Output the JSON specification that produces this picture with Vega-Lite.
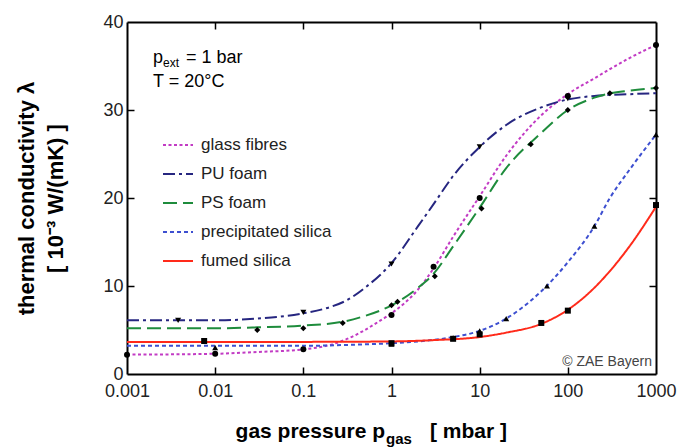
{
  "$schema": "https://vega.github.io/schema/vega-lite/v6.json",
  "width": 529,
  "height": 352,
  "autosize": "none",
  "padding": {"left": 127, "top": 22, "right": 38, "bottom": 74},
  "background": "white",
  "config": {
    "font": "Liberation Sans",
    "view": {"stroke": null},
    "axis": {
      "grid": false,
      "domainColor": "black",
      "domainWidth": 2,
      "tickColor": "black",
      "tickWidth": 1.5,
      "tickSize": 7,
      "labelFont": "Liberation Sans",
      "labelFontSize": 18,
      "labelColor": "#222",
      "titleFont": "Liberation Sans",
      "titleFontSize": 22,
      "titleFontWeight": "bold",
      "titleColor": "black"
    },
    "legend": {
      "labelFont": "Liberation Sans",
      "labelFontSize": 17,
      "labelColor": "#222"
    }
  },
  "datasets": {
    "curves": [
      {"s": "glass fibres", "p": 0.001, "k": 2.2},
      {"s": "glass fibres", "p": 0.01, "k": 2.3},
      {"s": "glass fibres", "p": 0.03, "k": 2.5},
      {"s": "glass fibres", "p": 0.1, "k": 2.8},
      {"s": "glass fibres", "p": 0.2, "k": 3.3},
      {"s": "glass fibres", "p": 0.3, "k": 3.9},
      {"s": "glass fibres", "p": 0.5, "k": 5.0},
      {"s": "glass fibres", "p": 0.7, "k": 5.9},
      {"s": "glass fibres", "p": 1, "k": 6.9},
      {"s": "glass fibres", "p": 2, "k": 9.6},
      {"s": "glass fibres", "p": 3, "k": 12.0},
      {"s": "glass fibres", "p": 5, "k": 15.6},
      {"s": "glass fibres", "p": 10, "k": 20.2},
      {"s": "glass fibres", "p": 20, "k": 24.8},
      {"s": "glass fibres", "p": 50, "k": 29.4},
      {"s": "glass fibres", "p": 100, "k": 31.8},
      {"s": "glass fibres", "p": 200, "k": 33.6},
      {"s": "glass fibres", "p": 500, "k": 35.9},
      {"s": "glass fibres", "p": 1000, "k": 37.4},
      {"s": "PU foam", "p": 0.001, "k": 6.1},
      {"s": "PU foam", "p": 0.01, "k": 6.1},
      {"s": "PU foam", "p": 0.03, "k": 6.3},
      {"s": "PU foam", "p": 0.1, "k": 6.9},
      {"s": "PU foam", "p": 0.2, "k": 7.6},
      {"s": "PU foam", "p": 0.3, "k": 8.3},
      {"s": "PU foam", "p": 0.5, "k": 9.8},
      {"s": "PU foam", "p": 1, "k": 12.6},
      {"s": "PU foam", "p": 2, "k": 16.8},
      {"s": "PU foam", "p": 3, "k": 19.3},
      {"s": "PU foam", "p": 5, "k": 22.5},
      {"s": "PU foam", "p": 10, "k": 25.8},
      {"s": "PU foam", "p": 20, "k": 28.3},
      {"s": "PU foam", "p": 50, "k": 30.3},
      {"s": "PU foam", "p": 100, "k": 31.2},
      {"s": "PU foam", "p": 200, "k": 31.6},
      {"s": "PU foam", "p": 500, "k": 31.8},
      {"s": "PU foam", "p": 1000, "k": 31.9},
      {"s": "PS foam", "p": 0.001, "k": 5.2},
      {"s": "PS foam", "p": 0.01, "k": 5.2},
      {"s": "PS foam", "p": 0.03, "k": 5.3},
      {"s": "PS foam", "p": 0.1, "k": 5.5},
      {"s": "PS foam", "p": 0.3, "k": 6.0},
      {"s": "PS foam", "p": 0.5, "k": 6.6},
      {"s": "PS foam", "p": 1, "k": 7.8},
      {"s": "PS foam", "p": 2, "k": 9.8},
      {"s": "PS foam", "p": 3, "k": 11.4},
      {"s": "PS foam", "p": 5, "k": 14.5},
      {"s": "PS foam", "p": 10, "k": 18.9},
      {"s": "PS foam", "p": 20, "k": 23.4},
      {"s": "PS foam", "p": 50, "k": 27.4},
      {"s": "PS foam", "p": 100, "k": 30.0},
      {"s": "PS foam", "p": 200, "k": 31.4},
      {"s": "PS foam", "p": 300, "k": 31.9},
      {"s": "PS foam", "p": 500, "k": 32.2},
      {"s": "PS foam", "p": 1000, "k": 32.5},
      {"s": "precipitated silica", "p": 0.001, "k": 3.2},
      {"s": "precipitated silica", "p": 0.01, "k": 3.2},
      {"s": "precipitated silica", "p": 0.1, "k": 3.2},
      {"s": "precipitated silica", "p": 0.3, "k": 3.3},
      {"s": "precipitated silica", "p": 1, "k": 3.5},
      {"s": "precipitated silica", "p": 2, "k": 3.7},
      {"s": "precipitated silica", "p": 5, "k": 4.2},
      {"s": "precipitated silica", "p": 10, "k": 4.9},
      {"s": "precipitated silica", "p": 20, "k": 6.3},
      {"s": "precipitated silica", "p": 30, "k": 7.5},
      {"s": "precipitated silica", "p": 50, "k": 9.4},
      {"s": "precipitated silica", "p": 100, "k": 12.7},
      {"s": "precipitated silica", "p": 200, "k": 16.8},
      {"s": "precipitated silica", "p": 300, "k": 20.0},
      {"s": "precipitated silica", "p": 500, "k": 23.2},
      {"s": "precipitated silica", "p": 1000, "k": 27.2},
      {"s": "fumed silica", "p": 0.001, "k": 3.65},
      {"s": "fumed silica", "p": 0.1, "k": 3.65},
      {"s": "fumed silica", "p": 1, "k": 3.7},
      {"s": "fumed silica", "p": 3, "k": 3.85},
      {"s": "fumed silica", "p": 10, "k": 4.2},
      {"s": "fumed silica", "p": 20, "k": 4.7},
      {"s": "fumed silica", "p": 50, "k": 5.7},
      {"s": "fumed silica", "p": 100, "k": 7.3},
      {"s": "fumed silica", "p": 200, "k": 9.8},
      {"s": "fumed silica", "p": 300, "k": 11.7},
      {"s": "fumed silica", "p": 500, "k": 14.5},
      {"s": "fumed silica", "p": 1000, "k": 19.0}
    ],
    "markers": [
      {"m": "gf", "p": 0.001, "k": 2.2},
      {"m": "gf", "p": 0.01, "k": 2.3},
      {"m": "gf", "p": 0.1, "k": 2.8},
      {"m": "gf", "p": 1, "k": 6.7},
      {"m": "gf", "p": 3, "k": 12.2},
      {"m": "gf", "p": 10, "k": 20.0},
      {"m": "gf", "p": 100, "k": 31.6},
      {"m": "gf", "p": 1000, "k": 37.4},
      {"m": "pu", "p": 0.0038, "k": 6.1},
      {"m": "pu", "p": 0.1, "k": 7.0},
      {"m": "pu", "p": 1, "k": 12.5},
      {"m": "pu", "p": 10, "k": 25.8},
      {"m": "pu", "p": 100, "k": 31.3},
      {"m": "ps", "p": 0.03, "k": 5.0},
      {"m": "ps", "p": 0.1, "k": 5.2},
      {"m": "ps", "p": 0.28, "k": 5.8},
      {"m": "ps", "p": 1, "k": 7.8},
      {"m": "ps", "p": 1.17, "k": 8.2},
      {"m": "ps", "p": 3.1, "k": 11.1},
      {"m": "ps", "p": 10.5, "k": 18.8},
      {"m": "ps", "p": 38, "k": 26.1},
      {"m": "ps", "p": 100, "k": 30.0},
      {"m": "ps", "p": 300, "k": 31.9},
      {"m": "ps", "p": 1000, "k": 32.5},
      {"m": "pr", "p": 0.01, "k": 3.0},
      {"m": "pr", "p": 1, "k": 3.4},
      {"m": "pr", "p": 5, "k": 4.1},
      {"m": "pr", "p": 10, "k": 4.9},
      {"m": "pr", "p": 20, "k": 6.3},
      {"m": "pr", "p": 58, "k": 10.0},
      {"m": "pr", "p": 200, "k": 16.8},
      {"m": "pr", "p": 1000, "k": 27.2},
      {"m": "fu", "p": 0.0075, "k": 3.75},
      {"m": "fu", "p": 1, "k": 3.5},
      {"m": "fu", "p": 5, "k": 4.0},
      {"m": "fu", "p": 10, "k": 4.5},
      {"m": "fu", "p": 50, "k": 5.8},
      {"m": "fu", "p": 100, "k": 7.2},
      {"m": "fu", "p": 1000, "k": 19.2}
    ]
  },
  "layer": [
    {
      "data": {"name": "curves"},
      "mark": {"type": "line", "strokeWidth": 2, "interpolate": "monotone"},
      "encoding": {
        "x": {"field": "p", "type": "quantitative", "scale": {"type": "log", "domain": [0.001, 1000]},
          "axis": {"orient": "bottom", "values": [0.001, 0.01, 0.1, 1, 10, 100, 1000], "format": "~g", "ticks": false, "labelFlush": false, "labelOverlap": false, "labelPadding": 8, "title": null}},
        "y": {"field": "k", "type": "quantitative", "scale": {"domain": [0, 40]},
          "axis": {"orient": "left", "values": [0, 10, 20, 30, 40], "ticks": false, "labelPadding": 4, "title": ["thermal conductivity λ", "[ 10⁻³ W/(mK) ]"], "titleLineHeight": 29, "titlePadding": 35}},
        "color": {"field": "s", "type": "nominal",
          "scale": {"domain": ["glass fibres", "PU foam", "PS foam", "precipitated silica", "fumed silica"], "range": ["#c23bc4", "#262680", "#1e8c3c", "#3d4fd0", "#ff2a1a"]},
          "legend": {"title": null, "orient": "none", "legendX": 35, "legendY": 107, "symbolType": "stroke", "symbolSize": 900, "symbolStrokeWidth": 2, "labelOffset": 7, "rowPadding": 5, "padding": 0}},
        "strokeDash": {"field": "s", "type": "nominal",
          "scale": {"domain": ["glass fibres", "PU foam", "PS foam", "precipitated silica", "fumed silica"], "range": [[3, 2.5], [12, 4, 3, 4], [14, 6], [4, 3], [1, 0]]},
          "legend": {"title": null, "orient": "none", "legendX": 35, "legendY": 107, "symbolType": "stroke", "symbolSize": 900, "symbolStrokeWidth": 2, "labelOffset": 7, "rowPadding": 5, "padding": 0}}
      }
    },
    {
      "data": {"name": "markers"},
      "mark": {"type": "point", "filled": true, "color": "black", "size": 36, "opacity": 1},
      "encoding": {
        "x": {"field": "p", "type": "quantitative", "scale": {"type": "log", "domain": [0.001, 1000]}, "axis": null},
        "y": {"field": "k", "type": "quantitative", "scale": {"domain": [0, 40]}, "axis": null},
        "shape": {"field": "m", "type": "nominal",
          "scale": {"domain": ["gf", "pu", "ps", "pr", "fu"], "range": ["circle", "triangle-down", "diamond", "triangle-up", "square"]},
          "legend": null}
      }
    },
    {
      "data": {"name": "markers"},
      "mark": {"type": "point", "opacity": 0},
      "encoding": {
        "x": {"field": "p", "type": "quantitative", "scale": {"type": "log", "domain": [0.001, 1000]},
          "axis": {"orient": "bottom", "offset": -352, "values": [0.01, 0.1, 1, 10, 100], "labels": false, "title": null}},
        "y": {"field": "k", "type": "quantitative", "scale": {"domain": [0, 40]},
          "axis": {"orient": "right", "offset": -529, "values": [10, 20, 30], "labels": false, "domain": false, "title": null}}
      }
    },
    {
      "data": {"name": "markers"},
      "mark": {"type": "point", "opacity": 0},
      "encoding": {
        "x": {"field": "p", "type": "quantitative", "scale": {"type": "log", "domain": [0.001, 1000]},
          "axis": {"orient": "top", "offset": -352, "values": [0.01, 0.1, 1, 10, 100], "labels": false, "domain": false, "title": null}},
        "y": {"field": "k", "type": "quantitative", "scale": {"domain": [0, 40]},
          "axis": {"orient": "left", "offset": -529, "values": [10, 20, 30], "labels": false, "title": null}}
      }
    },
    {
      "data": {"values": [{"t": "p", "p": 0.001972, "k": 35.34}, {"t": "= 1 bar", "p": 0.004668, "k": 35.34}, {"t": "T = 20°C", "p": 0.001972, "k": 32.61}]},
      "mark": {"type": "text", "align": "left", "baseline": "alphabetic", "fontSize": 18, "color": "black"},
      "encoding": {
        "x": {"field": "p", "type": "quantitative", "scale": {"type": "log", "domain": [0.001, 1000]}, "axis": null},
        "y": {"field": "k", "type": "quantitative", "scale": {"domain": [0, 40]}, "axis": null},
        "text": {"field": "t"}
      }
    },
    {
      "data": {"values": [{"t": "ext", "p": 0.00256, "k": 34.89}]},
      "mark": {"type": "text", "align": "left", "baseline": "alphabetic", "fontSize": 12, "color": "black"},
      "encoding": {
        "x": {"field": "p", "type": "quantitative", "scale": {"type": "log", "domain": [0.001, 1000]}, "axis": null},
        "y": {"field": "k", "type": "quantitative", "scale": {"domain": [0, 40]}, "axis": null},
        "text": {"field": "t"}
      }
    },
    {
      "data": {"values": [{"t": "© ZAE Bayern", "p": 899, "k": 0.91}]},
      "mark": {"type": "text", "align": "right", "baseline": "alphabetic", "fontSize": 14, "color": "#444"},
      "encoding": {
        "x": {"field": "p", "type": "quantitative", "scale": {"type": "log", "domain": [0.001, 1000]}, "axis": null},
        "y": {"field": "k", "type": "quantitative", "scale": {"domain": [0, 40]}, "axis": null},
        "text": {"field": "t"}
      }
    },
    {
      "data": {"values": [{"t": "gas pressure p", "p": 0.8435, "k": -7.3}]},
      "mark": {"type": "text", "align": "right", "baseline": "alphabetic", "fontSize": 21, "fontWeight": "bold", "color": "black"},
      "encoding": {
        "x": {"field": "p", "type": "quantitative", "scale": {"type": "log", "domain": [0.001, 1000]}, "axis": null},
        "y": {"field": "k", "type": "quantitative", "scale": {"domain": [0, 40]}, "axis": null},
        "text": {"field": "t"}
      }
    },
    {
      "data": {"values": [{"t": "[ mbar ]", "p": 2.733, "k": -7.3}]},
      "mark": {"type": "text", "align": "left", "baseline": "alphabetic", "fontSize": 21, "fontWeight": "bold", "color": "black"},
      "encoding": {
        "x": {"field": "p", "type": "quantitative", "scale": {"type": "log", "domain": [0.001, 1000]}, "axis": null},
        "y": {"field": "k", "type": "quantitative", "scale": {"domain": [0, 40]}, "axis": null},
        "text": {"field": "t"}
      }
    },
    {
      "data": {"values": [{"t": "gas", "p": 0.866, "k": -7.9}]},
      "mark": {"type": "text", "align": "left", "baseline": "alphabetic", "fontSize": 15, "fontWeight": "bold", "color": "black"},
      "encoding": {
        "x": {"field": "p", "type": "quantitative", "scale": {"type": "log", "domain": [0.001, 1000]}, "axis": null},
        "y": {"field": "k", "type": "quantitative", "scale": {"domain": [0, 40]}, "axis": null},
        "text": {"field": "t"}
      }
    }
  ],
  "resolve": {"axis": {"x": "independent", "y": "independent"}}
}
